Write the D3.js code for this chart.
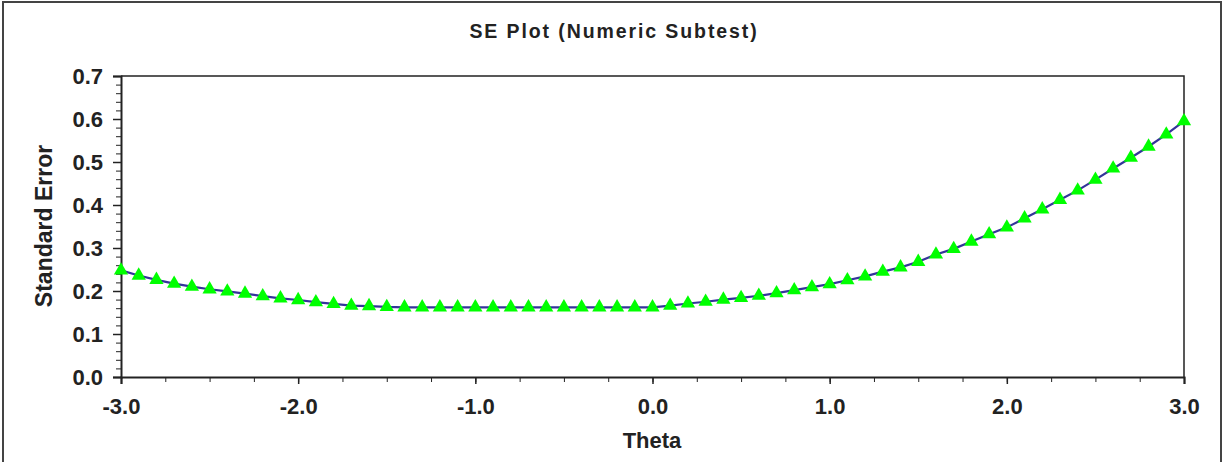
<!DOCTYPE html>
<html>
<head>
<meta charset="utf-8">
<script src="https://cdn.jsdelivr.net/npm/d3@7"></script>
<style>
	body { margin: 0; background: #fff; }
	text { font-family: "Liberation Sans", Arial, sans-serif; font-weight: bold; fill: #222; }
</style>
</head>
<body>
<div class="sechart"></div>
<script>
// SE plot, numeric subtest

WIDTH = 1225
HEIGHT = 462

// plot box in page pixels
LEFT = 121
RIGHT = 1184
TOP = 76
BOTTOM = 377

// theta grid, -3.0 .. 3.0 by 0.1
var theta = d3.range(61).map(function(i) { return (i - 30) / 10; });

// standard error, one per theta
var se = [
	0.248, 0.236, 0.226, 0.217, 0.210, 0.204, 0.199, 0.194, 0.188, 0.183,
	0.179, 0.174, 0.170, 0.166, 0.165, 0.163, 0.162, 0.162, 0.162, 0.162,
	0.162, 0.162, 0.162, 0.162, 0.162, 0.162, 0.162, 0.162, 0.162, 0.162,
	0.162, 0.166, 0.171, 0.175, 0.180, 0.184, 0.189, 0.195, 0.202, 0.209,
	0.216, 0.225, 0.234, 0.245, 0.255, 0.268, 0.285, 0.298, 0.315, 0.332,
	0.348, 0.369, 0.390, 0.412, 0.434, 0.459, 0.485, 0.510, 0.536, 0.564,
	0.595
];

var xTickLabels = ["-3.0", "-2.0", "-1.0", "0.0", "1.0", "2.0", "3.0"];
var yTickLabels = ["0.0", "0.1", "0.2", "0.3", "0.4", "0.5", "0.6", "0.7"];

var TITLE = "SE Plot (Numeric Subtest)";
var X_TITLE = "Theta";
var Y_TITLE = "Standard Error";

var x = d3.scaleLinear().domain([-3, 3]).range([LEFT, RIGHT]);
var y = d3.scaleLinear().domain([0, 0.7]).range([BOTTOM, TOP]);

var svg = d3.select(".sechart").append("svg")
	.attr("width", WIDTH)
	.attr("height", HEIGHT);

// outer frame
svg.append("rect")
	.attr("x", 3)
	.attr("y", 2)
	.attr("width", 1218)
	.attr("height", HEIGHT + 10)
	.style("fill", "none")
	.style("stroke", "#444")
	.style("stroke-width", "2px");

// title
svg.append("text")
	.attr("x", 614)
	.attr("y", 38)
	.attr("text-anchor", "middle")
	.style("font-size", "19.5px")
	.style("letter-spacing", "1.9px")
	.text(TITLE);

// plot box top + right
svg.append("path")
	.attr("d", "M" + LEFT + "," + TOP + "H" + RIGHT + "V" + BOTTOM)
	.style("fill", "none")
	.style("stroke", "#222")
	.style("stroke-width", "1.5px");

// minor ticks
var yMinor = d3.range(0, 0.7001, 0.02);
var xMinor = d3.range(-3, 3.001, 0.25);

svg.append("g")
	.attr("transform", "translate(" + LEFT + ",0)")
	.call(d3.axisLeft(y).tickValues(yMinor).tickSize(5).tickFormat(""))
	.call(function(g) { g.select(".domain").remove(); })
	.selectAll("line").style("stroke", "#222");

svg.append("g")
	.attr("transform", "translate(0," + BOTTOM + ")")
	.call(d3.axisBottom(x).tickValues(xMinor).tickSize(5).tickFormat(""))
	.call(function(g) { g.select(".domain").remove(); })
	.selectAll("line").style("stroke", "#222");

// major ticks + labels
var yAxis = svg.append("g")
	.attr("transform", "translate(" + LEFT + ",0)")
	.call(d3.axisLeft(y)
		.tickValues(yTickLabels.map(Number))
		.tickSize(8)
		.tickPadding(10)
		.tickFormat(function(d, i) { return yTickLabels[i]; }));
yAxis.select(".domain").style("stroke", "#222").style("stroke-width", "2px");
yAxis.selectAll("line").style("stroke", "#222").style("stroke-width", "1.5px");
yAxis.selectAll("text").style("font-size", "22px").style("fill", "#222");

var xAxis = svg.append("g")
	.attr("transform", "translate(0," + BOTTOM + ")")
	.call(d3.axisBottom(x)
		.tickValues(xTickLabels.map(Number))
		.tickSize(7)
		.tickPadding(14)
		.tickFormat(function(d, i) { return xTickLabels[i]; }));
xAxis.select(".domain").style("stroke", "#222").style("stroke-width", "2px");
xAxis.selectAll("line").style("stroke", "#222").style("stroke-width", "1.5px");
xAxis.selectAll("text").style("font-size", "22px").style("fill", "#222");

// axis titles
svg.append("text")
	.attr("x", 652)
	.attr("y", 448)
	.attr("text-anchor", "middle")
	.style("font-size", "22px")
	.text(X_TITLE);

svg.append("text")
	.attr("transform", "translate(52,226) rotate(-90)")
	.attr("text-anchor", "middle")
	.style("font-size", "23px")
	.text(Y_TITLE);

// SE curve
var points = theta.map(function(t, i) { return [t, se[i]]; });

svg.append("path")
	.datum(points)
	.attr("d", d3.line()
		.x(function(d) { return x(d[0]); })
		.y(function(d) { return y(d[1]); }))
	.style("fill", "none")
	.style("stroke", "#34349a")
	.style("stroke-width", "2.2px");

svg.append("g")
	.selectAll("path")
	.data(points)
	.enter().append("path")
	.attr("d", d3.symbol().type(d3.symbolTriangle).size(88))
	.attr("transform", function(d) { return "translate(" + x(d[0]) + "," + y(d[1]) + ")"; })
	.style("fill", "#00ff00");
</script>
</body>
</html>
